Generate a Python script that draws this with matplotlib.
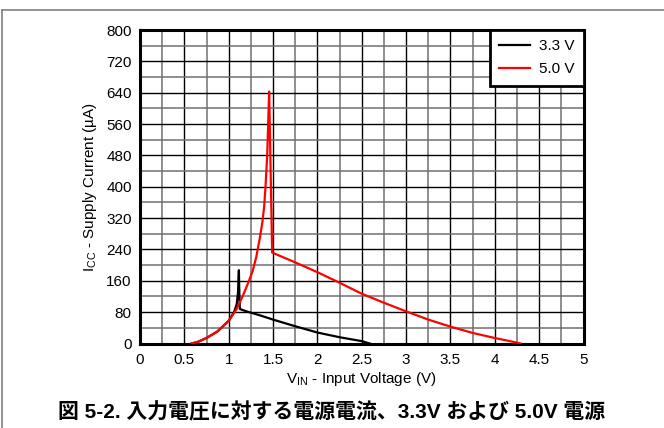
import numpy as np
import matplotlib
matplotlib.use('Agg')
import matplotlib.pyplot as plt
from matplotlib.ticker import MultipleLocator

plt.rcParams['font.family'] = ['Liberation Sans', 'Noto Sans CJK JP']
plt.rcParams['mathtext.fontset'] = 'custom'
plt.rcParams['mathtext.rm'] = 'Liberation Sans'

# 3.3 V supply curve (V, uA)
v_33 = [0.58, 0.65, 0.75, 0.875, 1.0, 1.06, 1.09, 1.105, 1.112, 1.115, 1.118, 1.122, 1.126,
        1.2, 1.35, 1.5, 1.75, 2.0, 2.25, 2.5, 2.59]
i_33 = [0, 4, 14, 31, 58, 80, 100, 130, 175, 187, 150, 110, 88,
        82, 72, 61, 44, 28, 16, 6, 0]

# 5.0 V supply curve (V, uA)
v_50 = [0.58, 0.65, 0.75, 0.875, 1.0, 1.09, 1.16, 1.22, 1.27, 1.31, 1.35, 1.38, 1.40, 1.415,
        1.434, 1.445, 1.456, 1.49, 1.75, 2.0, 2.25, 2.5, 2.75, 3.0, 3.25, 3.5, 3.75, 4.0,
        4.15, 4.29]
i_50 = [0, 4, 14, 31, 58, 88, 122, 155, 185, 220, 268, 310, 350, 400,
        480, 560, 643, 232, 207, 182, 155, 127, 104, 82, 61, 43, 27, 14,
        7, 0]

x_ticks = [0, 0.5, 1, 1.5, 2, 2.5, 3, 3.5, 4, 4.5, 5]
x_labels = ['0', '0.5', '1', '1.5', '2', '2.5', '3', '3.5', '4', '4.5', '5']
y_ticks = [0, 80, 160, 240, 320, 400, 480, 560, 640, 720, 800]

fig = plt.figure(figsize=(6.64, 4.28), dpi=100)
ax = fig.add_axes([140/664, 1-343.5/428, 443.5/664, 313.5/428])

ax.plot(v_33, i_33, color='black', lw=1.6, label='3.3 V', zorder=3)
ax.plot(v_50, i_50, color='#ff0000', lw=1.6, label='5.0 V', zorder=4)

ax.set_xlim(0, 5)
ax.set_ylim(0, 800)
ax.set_xticks(x_ticks)
ax.set_xticklabels(x_labels)
ax.set_yticks(y_ticks)
ax.xaxis.set_minor_locator(MultipleLocator(0.25))
ax.yaxis.set_minor_locator(MultipleLocator(40))
ax.tick_params(which='both', length=0, labelsize=11)
ax.tick_params(axis='x', pad=7)
ax.tick_params(axis='y', pad=6)

# grid: black major, grey minor
ax.grid(which='major', color='black', lw=1.0, zorder=1)
ax.grid(which='minor', color='#707070', lw=1.1, zorder=1)
ax.set_axisbelow(True)
for s in ax.spines.values():
    s.set_linewidth(2.2)

ax.set_xlabel(r'V$_{\mathregular{IN}}$ - Input Voltage (V)', fontsize=11, labelpad=2)
ax.set_ylabel(r'I$_{\mathregular{CC}}$ - Supply Current (µA)', fontsize=11, labelpad=5)

leg = ax.legend(loc='upper right', borderaxespad=0, fancybox=False, fontsize=11,
                handlelength=2.0, handletextpad=0.6, labelspacing=0.6,
                borderpad=0.6, framealpha=1)
leg.get_frame().set_edgecolor('black')
leg.get_frame().set_linewidth(2)

# caption
fig.text(0.5, 1-412/428, '図 5-2. 入力電圧に対する電源電流、3.3V および 5.0V 電源',
         ha='center', va='center', fontsize=15, fontweight='bold')

# outer frame (top and left edges visible)
fig.add_artist(plt.Line2D([1.5/664, 1], [1-10/428, 1-10/428], color='#808080', lw=1.2))
fig.add_artist(plt.Line2D([1.5/664, 1.5/664], [0, 1-10/428], color='#808080', lw=1.2))

fig.savefig('out.png', dpi=100)
